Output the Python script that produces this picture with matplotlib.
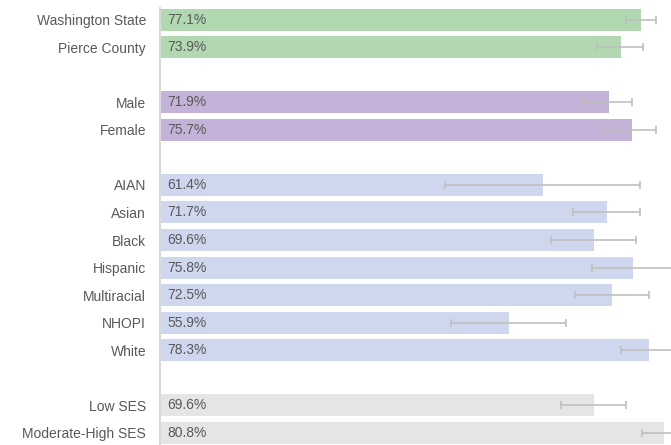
import matplotlib
matplotlib.use("Agg")
import matplotlib.pyplot as plt

categories = ["Washington State", "Pierce County", None, "Male", "Female", None,
              "AIAN", "Asian", "Black", "Hispanic", "Multiracial", "NHOPI", "White", None,
              "Low SES", "Moderate-High SES"]
values = [77.1, 73.9, None, 71.9, 75.7, None,
          61.4, 71.7, 69.6, 75.8, 72.5, 55.9, 78.3, None,
          69.6, 80.8]
ci_low = [74.7, 70.0, None, 67.8, 71.6, None,
          45.7, 66.2, 62.6, 69.3, 66.5, 46.6, 73.9, None,
          64.3, 77.2]
ci_high = [79.5, 77.4, None, 75.6, 79.5, None,
           76.9, 77.0, 76.3, 83.0, 78.4, 65.1, 83.5, None,
           74.7, 84.5]
groups = ["state", "state", None, "sex", "sex", None,
          "race", "race", "race", "race", "race", "race", "race", None,
          "ses", "ses"]
group_colors = {"state": "#b2d8b2", "sex": "#c4b2d8", "race": "#cfd7ee", "ses": "#e5e5e5"}

plt.rcParams['font.family'] = ['Liberation Sans', 'DejaVu Sans']
fig = plt.figure(figsize=(6.71, 4.45), dpi=100)
ax = fig.add_axes([160 / 671, 0, 511 / 671, 437 / 445])

txt_color = "#595959"
for i, (c, v, lo, hi, g) in enumerate(zip(categories, values, ci_low, ci_high, groups)):
    if c is None:
        continue
    ax.barh(i, v, height=0.8, color=group_colors[g], zorder=1)
    ax.errorbar(v, i, xerr=[[v - lo], [hi - v]], fmt='none', ecolor="#bfbfbf",
                elinewidth=1.2, capsize=3, capthick=1.2, zorder=2)
    ax.text(1.2, i, f"{v:.1f}%", va='center', ha='left', fontsize=10, color=txt_color, zorder=3)

ticks = [i for i, c in enumerate(categories) if c is not None]
ax.set_yticks(ticks)
ax.set_yticklabels([categories[i] for i in ticks], fontsize=10, color=txt_color)
ax.tick_params(axis='y', length=0, pad=10)
ax.set_xticks([])
ax.set_xlim(0, 81.9)
ax.set_ylim(15.44, -0.42)
for s in ["top", "right", "bottom"]:
    ax.spines[s].set_visible(False)
ax.spines["left"].set_color("#d9d9d9")
ax.spines["left"].set_linewidth(1.5)

fig.savefig("out.png", dpi=100)
